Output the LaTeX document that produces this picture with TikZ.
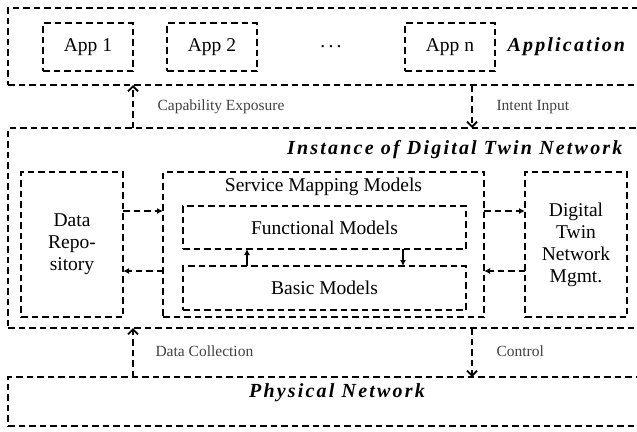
\documentclass[tikz,border=0pt]{standalone}
\usepackage{fontspec}
\setmainfont{Liberation Serif}
\usetikzlibrary{positioning,arrows.meta}

\tikzset{
  layer/.style={draw, dash pattern=on 6.5pt off 4pt, line width=1.8pt, anchor=north west,
    inner sep=0pt, outer sep=0pt, font=\fontsize{19.5}{22}\selectfont, align=center},
  appbox/.style={layer, minimum width=90pt, minimum height=48pt},
  sidebox/.style={layer, minimum width=102pt, minimum height=145pt},
  modbox/.style={layer, minimum width=283pt, minimum height=43pt},
  title/.style={font=\fontsize{20}{22}\selectfont\bfseries\itshape\addfontfeature{LetterSpace=11}},
  tag/.style={anchor=west, text=black!75, font=\fontsize{15.5}{18}\selectfont},
  flow/.style={line width=1.8pt, dash pattern=on 6.5pt off 4pt, -{Straight Barb[length=5pt,width=10pt]}},
  link/.style={line width=1.8pt, dash pattern=on 6.5pt off 4pt, -{Latex[length=6pt,width=6pt]}}
}

\begin{document}
\begin{tikzpicture}[x=1pt,y=-1pt]
  \clip (0,0) rectangle (637,431);

  % Application layer
  \node[layer, minimum width=660pt, minimum height=77pt] (applayer) at (8,8) {};
  \node[appbox] (app1) at (43,23) {App 1};
  \node[appbox] (app2) at (167,23) {App 2};
  \node[font=\fontsize{19.5}{22}\selectfont] (dots) at (331,47) {.\,.\,.};
  \node[appbox] (appn) at (405,23) {App n};
  \node[title, anchor=west] (apptitle) at (504,47) {Application};

  % Instance of DTN
  \node[layer, minimum width=660pt, minimum height=200pt] (instlayer) at (8,128) {};
  \node[title, anchor=east] (insttitle) at (626,150) {Instance of Digital Twin Network};
  \node[sidebox] (repo) at (21,172) {Data\\Repo-\\sitory};
  \node[layer, minimum width=321pt, minimum height=145pt] (smm) at (163,172) {};
  \node[below=2pt of smm.north, font=\fontsize{19.5}{22}\selectfont] (smmtitle) {Service Mapping Models};
  \node[modbox] (func) at (183,206) {Functional Models};
  \node[modbox, minimum height=44pt] (basic) at (183,266) {Basic Models};
  \node[sidebox] (dtn) at (525,172) {Digital\\Twin\\Network\\Mgmt.};

  % Physical layer
  \node[layer, minimum width=660pt, minimum height=49pt] (phylayer) at (8,377) {};
  \node[title] (phytitle) at (337,393) {Physical Network};

  % inner links
  \coordinate (upper) at (0,211);
  \coordinate (lower) at (0,271);
  \coordinate (upx) at (247,0);
  \coordinate (downx) at (403,0);
  \draw[link] (repo.east |- upper) -- (smm.west |- upper);
  \draw[link] (smm.west |- lower) -- (repo.east |- lower);
  \draw[link] (smm.east |- upper) -- (dtn.west |- upper);
  \draw[link] (dtn.west |- lower) -- (smm.east |- lower);
  \draw[link, solid, line width=1.3pt] (basic.north -| upx) -- (func.south -| upx);
  \draw[link, solid, line width=1.3pt] (func.south -| downx) -- (basic.north -| downx);

  % layer flows
  \coordinate (ctlx) at (472,0);
  \draw[flow] (instlayer.north -| app1.east) -- (applayer.south -| app1.east);
  \draw[flow] (applayer.south -| ctlx) -- (instlayer.north -| ctlx);
  \draw[flow] (phylayer.north -| app1.east) -- (instlayer.south -| app1.east);
  \draw[flow] (instlayer.south -| ctlx) -- (phylayer.north -| ctlx);
  \node[tag] (captag) at (154,107) {Capability Exposure};
  \node[tag] (intag) at (493,107) {Intent Input};
  \node[tag] (coltag) at (152,351) {Data Collection};
  \node[tag] (ctltag) at (493,351) {Control};
\end{tikzpicture}
\end{document}
